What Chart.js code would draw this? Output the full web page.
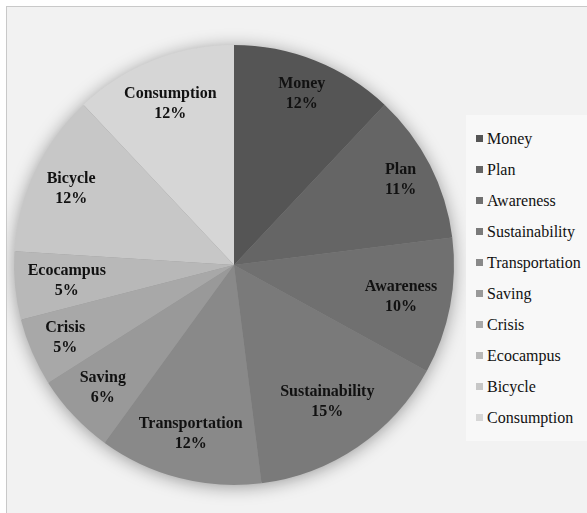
<!DOCTYPE html>
<html>
<head>
<meta charset="utf-8">
<script src="https://cdn.jsdelivr.net/npm/chart.js@4"></script>
<style>
  html, body { margin: 0; padding: 0; background: #fff; }
  .panel {
    position: absolute; left: 6px; top: 6px;
    width: 580px; height: 506px;
    border-left: 1px solid #c9c9c9; border-top: 1px solid #c9c9c9;
    background: #f2f2f2;
  }
  .panel canvas { position: absolute; left: 0; top: 0; }
  .legend {
    position: absolute; left: 459px; top: 108px;
    margin: 0; padding: 8px 0 8px 10px; width: 112px;
    list-style: none; background: #f8f8f8;
    font-family: "Liberation Serif", "Times New Roman", serif;
    font-size: 16px; color: #111;
  }
  .legend li { height: 31px; display: flex; align-items: center; white-space: nowrap; }
  .legend i { display: inline-block; width: 7px; height: 7px; margin-right: 4px; }
</style>
</head>
<body>
<div class="panel">
  <canvas id="pie" width="580" height="506"></canvas>
  <ul class="legend" id="legend"></ul>
</div>
<script>
const categories = ['Money', 'Plan', 'Awareness', 'Sustainability', 'Transportation',
                    'Saving', 'Crisis', 'Ecocampus', 'Bicycle', 'Consumption']
const shares = [12, 11, 10, 15, 12, 6, 5, 5, 12, 12]
const shades = ['#555555', '#656565', '#707070', '#7a7a7a', '#898989',
                '#999999', '#a8a8a8', '#b8b8b8', '#c7c7c7', '#d6d6d6']

const total = shares.reduce((a, b) => a + b, 0)

// soft shadow under the whole pie
const pieShadow = {
    id: 'pieShadow',
    beforeDatasetsDraw(chart) {
        const arc = chart.getDatasetMeta(0).data[0]
        if (!arc) return
        const {x, y, outerRadius} = arc.getProps(['x', 'y', 'outerRadius'], true)
        const ctx = chart.ctx
        ctx.save()
        ctx.shadowColor = 'rgba(0, 0, 0, 0.4)'
        ctx.shadowBlur = 18
        ctx.shadowOffsetY = 2
        ctx.beginPath()
        ctx.arc(x, y, outerRadius - 1, 0, Math.PI * 2)
        ctx.fillStyle = '#888'
        ctx.fill()
        ctx.restore()
    }
}

// name + percentage inside each slice, pulled inward if the text would cross the rim
const sliceLabels = {
    id: 'sliceLabels',
    afterDatasetsDraw(chart) {
        const ctx = chart.ctx
        const meta = chart.getDatasetMeta(0)
        ctx.save()
        ctx.font = 'bold 16px "Liberation Serif", "Times New Roman", serif'
        ctx.fillStyle = '#111'
        ctx.textAlign = 'center'
        ctx.textBaseline = 'middle'
        meta.data.forEach((arc, i) => {
            const {x, y, startAngle, endAngle, outerRadius} =
                arc.getProps(['x', 'y', 'startAngle', 'endAngle', 'outerRadius'], true)
            const mid = (startAngle + endAngle) / 2
            const name = chart.data.labels[i]
            const pct = Math.round(shares[i] / total * 100) + '%'
            const halfW = Math.max(ctx.measureText(name).width, ctx.measureText(pct).width) / 2
            const halfH = 18
            const limit = outerRadius - 10
            let r = outerRadius * 0.85
            const fits = (rr) => {
                const cx = Math.cos(mid) * rr, cy = Math.sin(mid) * rr
                return [[-1, -1], [1, -1], [-1, 1], [1, 1]].every(([sx, sy]) =>
                    Math.hypot(cx + sx * halfW, cy + sy * halfH) <= limit)
            }
            while (r > 0 && !fits(r)) r -= 1
            const lx = x + Math.cos(mid) * r
            const ly = y + Math.sin(mid) * r
            ctx.fillText(name, lx, ly - 10)
            ctx.fillText(pct, lx, ly + 10)
        })
        ctx.restore()
    }
}

const chart = new Chart(document.getElementById('pie'), {
    type: 'pie',
    data: {
        labels: categories,
        datasets: [{
            data: shares,
            backgroundColor: shades,
            borderWidth: 0
        }]
    },
    options: {
        responsive: false,
        animation: false,
        layout: {
            padding: {left: 7, right: 133, top: 38, bottom: 28}
        },
        plugins: {
            legend: {display: false},
            tooltip: {enabled: false}
        }
    },
    plugins: [pieShadow, sliceLabels]
})

// legend list on the right
const legend = document.getElementById('legend')
categories.forEach((name, i) => {
    const li = document.createElement('li')
    const box = document.createElement('i')
    box.style.background = shades[i]
    li.appendChild(box)
    li.appendChild(document.createTextNode(name))
    legend.appendChild(li)
})
</script>
</body>
</html>
